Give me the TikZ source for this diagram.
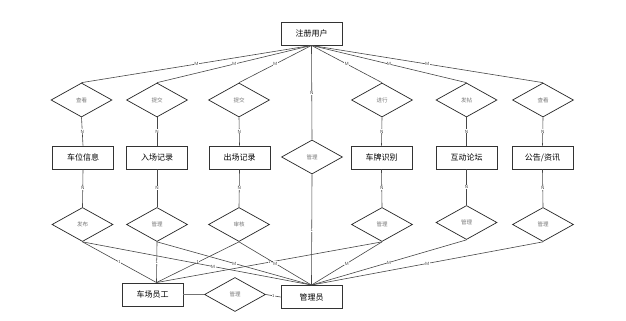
\documentclass[tikz,border=0pt]{standalone}
\usepackage{fontspec}
\usepackage{tikz}
\usetikzlibrary{shapes.geometric}
\newfontfamily\cjk{Noto Sans CJK SC}
\definecolor{linegray}{RGB}{70,70,70}
\definecolor{relgray}{RGB}{120,120,120}

\begin{document}
\begin{tikzpicture}[x=1pt, y=-1pt,
  entity/.style={draw=black!80, line width=0.9pt, fill=white, minimum width=61pt, minimum height=23pt, inner sep=0pt, font=\cjk\fontsize{8}{9}\selectfont},
  relation/.style={draw=black!85, line width=0.7pt, fill=white, diamond, aspect=1.8, minimum width=61pt, minimum height=34pt, inner sep=0pt, text=relgray, font=\cjk\fontsize{5.5}{6}\selectfont},
  link/.style={draw=linegray, line width=0.6pt},
  card/.style={fill=white, inner sep=0.4pt, text=black!75, font=\sffamily\fontsize{4.5}{5}\selectfont}]
  \useasboundingbox (0,0) rectangle (626,321);
  % user
  \node[entity] (user) at (311.5,33.5) {注册用户};
  % relations of the user
  \node[relation] (rview) at (81.5,100) {查看};
  \node[relation] (rsubin) at (157,100) {提交};
  \node[relation] (rsubout) at (239,100) {提交};
  \node[relation] (rdo) at (382,100) {进行};
  \node[relation] (rpost) at (466.5,100) {发帖};
  \node[relation] (rread) at (543,100) {查看};
  % entities
  \node[entity] (park) at (83,157.5) {车位信息};
  \node[entity] (inrec) at (157,157.5) {入场记录};
  \node[entity] (outrec) at (239.5,157.5) {出场记录};
  \node[relation] (rmng) at (312,157) {管理};
  \node[entity] (plate) at (381.5,157.5) {车牌识别};
  \node[entity] (forum) at (466.5,157.5) {互动论坛};
  \node[entity] (notice) at (542.5,157.5) {公告/资讯};
  % lower relations
  \node[relation] (rpub) at (82.5,224.5) {发布};
  \node[relation] (rmngin) at (157,224.5) {管理};
  \node[relation] (raudit) at (239,224.5) {审核};
  \node[relation] (rmngplate) at (382,224.5) {管理};
  \node[relation] (rmngforum) at (466.5,222.5) {管理};
  \node[relation] (rmngnotice) at (543,224.5) {管理};
  % staff and admin
  \node[entity] (staff) at (152.5,294.5) {车场员工};
  \node[relation] (rstaff) at (235,294.5) {管理};
  \node[entity] (admin) at (311.5,297) {管理员};
  \coordinate (staffin) at ([xshift=4pt]staff.north);
  % user links
  \foreach \r in {rview,rsubin,rsubout,rdo,rpost,rread}
    \draw[link] (user.south) -- (\r.north) node[card, midway] {M};
  \draw[link] (user.south) -- (rmng.north) node[card, midway] {N};
  % relation to entity
  \draw[link] (rview.south) -- (park.north) node[card, midway] {N};
  \draw[link] (rsubin.south) -- (inrec.north) node[card, midway] {N};
  \draw[link] (rsubout.south) -- (outrec.north) node[card, midway] {N};
  \draw[link] (rdo.south) -- (plate.north) node[card, midway] {N};
  \draw[link] (rpost.south) -- (forum.north) node[card, midway] {N};
  \draw[link] (rread.south) -- (notice.north) node[card, midway] {N};
  \draw[link] (park.south) -- (rpub.north) node[card, midway] {N};
  \draw[link] (inrec.south) -- (rmngin.north) node[card, midway] {N};
  \draw[link] (outrec.south) -- (raudit.north) node[card, midway] {N};
  \draw[link] (plate.south) -- (rmngplate.north) node[card, midway] {N};
  \draw[link] (forum.south) -- (rmngforum.north) node[card, midway] {N};
  \draw[link] (notice.south) -- (rmngnotice.north) node[card, midway] {N};
  % to staff
  \foreach \r in {rpub,rmngin,raudit,rmngplate}
    \draw[link] (\r.south) -- (staffin) node[card, midway] {1};
  % to admin
  \draw[link] (rpub.south) -- (admin.north) node[card, pos=0.57] {M};
  \foreach \r in {rmngin,raudit,rmngplate,rmngforum,rmngnotice}
    \draw[link] (\r.south) -- (admin.north) node[card, midway] {M};
  \draw[link] (rmng.south) -- (admin.north) node[card, midway] {1};
  \draw[draw=black!55, line width=1.1pt] (staff.east) -- (rstaff.west);
  \draw[link] (rstaff.east) -- (admin.west) node[card, midway] {1};
\end{tikzpicture}
\end{document}
